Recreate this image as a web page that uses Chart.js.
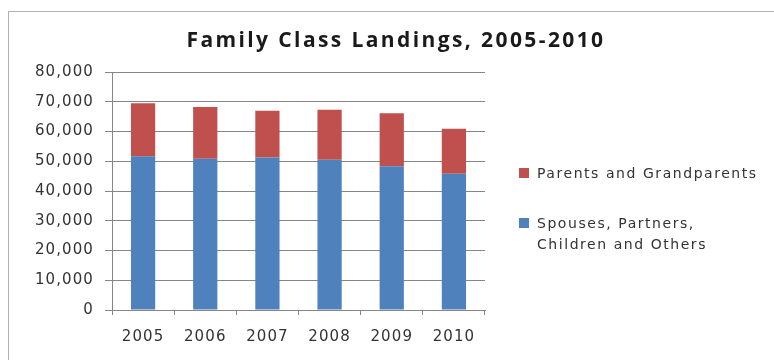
<!DOCTYPE html>
<html>
<head>
<meta charset="utf-8">
<script src="https://cdn.jsdelivr.net/npm/chart.js@4/dist/chart.umd.min.js"></script>
<style>
  html, body { margin: 0; padding: 0; background: #fff; }
  #frame {
    position: absolute; left: 8px; top: 11px; width: 800px; height: 400px;
    border: 1px solid #b0b0b0; box-sizing: border-box;
  }
  #title {
    position: absolute; left: 0; width: 792px; top: 25px; text-align: center;
    font-family: "Open Sans", Lato, sans-serif; font-weight: bold; font-size: 21px;
    letter-spacing: 2.4px; color: #1a1a1a;
  }
  #wrap { position: absolute; left: 0; top: 0; width: 774px; height: 360px; }
  #legend {
    position: absolute; left: 519px; top: 163px;
    font-family: "DejaVu Sans", Verdana, sans-serif; font-size: 14px;
    letter-spacing: 1.55px; color: #333; line-height: 21px;
  }
  .item { position: relative; padding-left: 18px; margin-bottom: 29px; white-space: nowrap; }
  .swatch { position: absolute; left: 0; top: 5px; width: 10px; height: 10px; }
</style>
</head>
<body>
<div id="frame"></div>
<div id="wrap"><canvas id="chart" width="774" height="360"></canvas></div>
<div id="title">Family Class Landings, 2005-2010</div>
<div id="legend"></div>
<script>
// Data
const years = ['2005', '2006', '2007', '2008', '2009', '2010'];
const spouses = [51700, 50800, 51300, 50500, 48300, 45800];
const parents = [17800, 17400, 15700, 16800, 17800, 15100];
const seriesNames = ['Spouses, Partners,\nChildren and Others', 'Parents and Grandparents'];
const seriesColors = ['#4f81bd', '#c0504d'];
const yMax = 80000;
const yStep = 10000;

const tickFont = { family: '"DejaVu Sans", Verdana, sans-serif', size: 15 };

// canvas text spacing to match the wide lettering of the original
const spacing = {
  id: 'spacing',
  beforeUpdate(chart) { chart.ctx.letterSpacing = '1.1px'; },
  beforeDraw(chart) { chart.ctx.letterSpacing = '1.1px'; }
};

const chart = new Chart(document.getElementById('chart'), {
  type: 'bar',
  data: {
    labels: years,
    datasets: [
      { label: seriesNames[0], data: spouses, backgroundColor: seriesColors[0] },
      { label: seriesNames[1], data: parents, backgroundColor: seriesColors[1] }
    ]
  },
  options: {
    responsive: false,
    animation: false,
    events: [],
    layout: { padding: { left: 0, right: 289, top: 72, bottom: 0 } },
    datasets: { bar: { barPercentage: 0.39, categoryPercentage: 1.0 } },
    plugins: { legend: { display: false }, title: { display: false }, tooltip: { enabled: false } },
    scales: {
      x: {
        stacked: true,
        afterFit: s => { s.height = 50; },
        grid: { offset: true, drawOnChartArea: false, drawTicks: true, tickLength: 5, color: '#868686' },
        border: { color: '#868686' },
        ticks: { font: tickFont, color: '#333', padding: 13, maxRotation: 0 }
      },
      y: {
        stacked: true,
        min: 0, max: yMax,
        afterFit: s => { s.width = 112; },
        grid: { color: '#868686', tickLength: 7 },
        border: { color: '#868686' },
        ticks: {
          stepSize: yStep, font: tickFont, color: '#333', padding: 11,
          callback: v => v.toLocaleString('en-US')
        }
      }
    }
  },
  plugins: [spacing]
});

// legend, top entry is the upper stack
const legend = document.getElementById('legend');
[1, 0].forEach(i => {
  const d = document.createElement('div');
  d.className = 'item';
  d.innerHTML = '<span class="swatch" style="background:' + seriesColors[i] + '"></span>' +
    seriesNames[i].replace('\n', '<br>');
  legend.appendChild(d);
});
</script>
</body>
</html>
